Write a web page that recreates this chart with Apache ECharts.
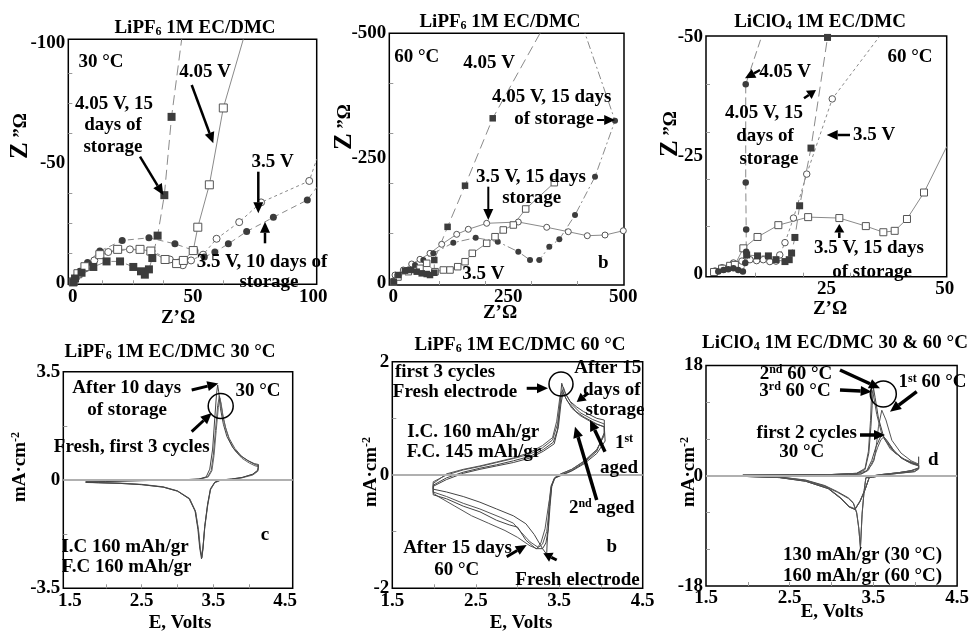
<!DOCTYPE html>
<html><head><meta charset="utf-8"><title>Impedance and CV</title>
<script src="https://cdn.jsdelivr.net/npm/echarts@6/dist/echarts.min.js"></script>
<style>html,body{margin:0;padding:0;background:#fff;}#chart{width:972px;height:633px;}</style>
</head><body><div id="chart"></div>
<script>
// ---------- (a) LiPF6 1M EC/DMC, 30 °C, Nyquist (Z', Z'') ----------
const a_405V_15d = [[0.3,-0.6],[1.0,-2.1],[3.7,-4.5],[8.6,-6.9],[14.1,-9.2],[19.7,-9.2],[25.2,-6.9],[28.4,-5.1],[30.0,-3.7],[31.7,-5.9],[33.1,-10.6],[35.3,-19.9],[38.1,-36.7],[41.1,-69.2],[45.3,-101.4]];
const a_405V = [[0.2,-0.7],[2.2,-4.1],[5.1,-7.0],[11.3,-12.0],[18.7,-14.2],[28.0,-14.2],[32.5,-13.5],[38.4,-10.0],[43.2,-8.3],[46.0,-9.6],[50.1,-13.7],[52.0,-23.4],[56.8,-41.0],[62.6,-72.9],[70.9,-101.4]];
const a_35V = [[1.7,-2.8],[5.1,-6.2],[9.0,-9.6],[14.8,-13.1],[23.8,-14.2],[32.8,-13.5],[40.4,-10.0],[43.9,-8.7],[45.8,-7.6],[49.2,-9.6],[54.2,-12.0],[59.8,-18.6],[69.2,-25.5],[78.3,-33.7],[98.3,-42.6],[101.4,-51.6]];
const a_35V_10d = [[0.25,-1.4],[3.0,-5.1],[6.2,-8.7],[11.3,-13.5],[20.6,-17.9],[31.7,-19.0],[42.5,-16.5],[50.8,-13.6],[54.7,-11.0],[59.1,-13.1],[64.7,-16.5],[72.3,-21.6],[83.4,-27.5],[97.5,-34.7],[101.4,-39.9]];
const a_xLabels = [0,50,100], a_yLabels = [-100,-50,0];

// ---------- (b) LiPF6 1M EC/DMC, 60 °C, Nyquist ----------
const b_405V = [[1,-2],[10.9,-15.4],[25.4,-24.1],[38.5,-25.5],[50.9,-22.1],[61.7,-18.8],[72.6,-17.4],[79.8,-15.4],[89.1,-20.0],[89.1,-45.5],[118,-112],[155.9,-194.5],[216.1,-329.6],[318.9,-500]];
const b_35V = [[0.5,-1],[10.2,-11.4],[32.6,-22.1],[58.0,-28.9],[72.6,-38.9],[90.7,-22.1],[108.7,-25.5],[123.3,-25.5],[140.0,-32.1],[155.9,-42.1],[171.7,-58.9],[203.0,-79.0],[221.1,-92.2],[239.1,-105.7],[260.9,-115.7],[287.8,-147.8],[350.0,-200.5]];
const b_35V_15d = [[1,-4],[3.7,-15.4],[21.7,-25.5],[40.0,-37.5],[58.0,-46.9],[79.8,-58.9],[105.2,-77.0],[137.8,-97.0],[163.0,-107.1],[203.0,-119.1],[271.7,-121.7],[333.5,-111.1],[380.4,-102.2],[421.7,-94.2],[460.2,-95.6],[500,-104.2]];
const b_405V_15d = [[1,-3],[10.9,-15.4],[29.1,-25.5],[47.2,-35.5],[65.2,-45.5],[87.0,-58.9],[130.4,-80.2],[179.1,-90.2],[227.0,-82.2],[271.7,-62.1],[297.2,-45.5],[317.4,-45.5],[339.1,-72.2],[360.9,-87.0],[395.0,-135.7],[438.5,-212.5],[482.0,-324.8],[416.7,-500]];
const b_xLabels = [0,250,500], b_yLabels = [-500,-250,0];

// ---------- (c) LiClO4 1M EC/DMC, 60 °C, Nyquist ----------
const c_405V = [[2.1,-0.5],[3.2,-0.8],[4.2,-1.0],[5.3,-1.2],[6.3,-0.8],[7.3,-0.5],[7.8,-2.3],[8.0,-4.7],[8.0,-9.4],[7.9,-19.3],[7.9,-40.1],[11.3,-50.3]];
const c_405V_15d = [[8.1,-4.0],[10.4,-3.8],[12.7,-3.8],[14.3,-3.0],[16.2,-2.6],[17.1,-3.0],[17.6,-4.4],[18.3,-7.7],[19.3,-14.4],[21.7,-26.6],[25.2,-50.0]];
const c_35V = [[1.4,-0.6],[2.9,-1.3],[5.3,-2.3],[7.1,-2.7],[8.8,-3.0],[10.2,-2.8],[11.6,-3.0],[13.0,-2.6],[14.3,-2.7],[15.1,-4.0],[16.2,-6.6],[18.0,-11.8],[20.8,-21.1],[26.2,-37.0],[36.1,-50.1]];
const c_35V_15d = [[1.2,-0.4],[2.9,-1.1],[4.6,-1.7],[5.6,-1.9],[7.4,-5.4],[10.4,-7.8],[14.8,-10.3],[21.1,-12.0],[27.7,-11.8],[33.3,-10.1],[37.0,-8.8],[39.4,-9.1],[42.0,-11.6],[45.6,-17.2],[50.4,-26.9]];
const c_xLabels = [25,50], c_yLabels = [-50,-25,0];

// ---------- (d) CV LiPF6 30 °C (E, mA/cm2) ----------
const d_fresh1 = [[1.72,-0.05],[2.0,-0.03],[2.5,-0.01],[3.0,0.0],[3.3,0.03],[3.42,0.1],[3.47,0.3],[3.5,0.8],[3.53,1.6],[3.56,2.4],[3.585,2.72],[3.6,2.55],[3.63,2.1],[3.67,1.7],[3.72,1.35],[3.8,1.02],[3.9,0.75],[4.0,0.6],[4.08,0.5],[4.13,0.46],[4.12,0.3],[4.05,0.18],[3.9,0.08],[3.75,0.03],[3.6,0.0],[3.52,-0.08],[3.46,-0.3],[3.42,-0.8],[3.38,-1.5],[3.355,-2.2],[3.34,-2.48],[3.315,-2.2],[3.29,-1.6],[3.25,-1.0],[3.17,-0.6],[3.0,-0.35],[2.8,-0.22],[2.5,-0.14],[2.2,-0.1],[1.9,-0.08],[1.72,-0.07]];
const d_fresh2 = [[1.72,-0.06],[2.0,-0.04],[2.5,-0.02],[3.0,0.0],[3.3,0.02],[3.43,0.1],[3.48,0.3],[3.51,0.8],[3.54,1.6],[3.57,2.35],[3.59,2.65],[3.61,2.45],[3.64,2.0],[3.68,1.6],[3.73,1.25],[3.8,0.95],[3.9,0.7],[4.0,0.55],[4.08,0.46],[4.13,0.43],[4.12,0.28],[4.05,0.16],[3.9,0.07],[3.75,0.02],[3.6,-0.01],[3.52,-0.09],[3.46,-0.32],[3.42,-0.85],[3.38,-1.55],[3.355,-2.25],[3.34,-2.52],[3.32,-2.25],[3.295,-1.65],[3.255,-1.05],[3.17,-0.62],[3.0,-0.36],[2.8,-0.23],[2.5,-0.15],[2.2,-0.11],[1.9,-0.09],[1.72,-0.08]];
const d_aged10d = [[1.72,-0.07],[2.0,-0.05],[2.5,-0.02],[3.0,0.0],[3.3,0.03],[3.4,0.1],[3.45,0.35],[3.49,1.0],[3.52,2.0],[3.545,2.8],[3.56,3.07],[3.575,2.85],[3.6,2.3],[3.64,1.8],[3.69,1.4],[3.77,1.05],[3.87,0.8],[3.98,0.63],[4.07,0.53],[4.13,0.5],[4.12,0.32],[4.05,0.19],[3.9,0.08],[3.75,0.03],[3.6,0.0],[3.52,-0.07],[3.46,-0.28],[3.42,-0.78],[3.38,-1.5],[3.355,-2.2],[3.335,-2.55],[3.31,-2.2],[3.285,-1.6],[3.245,-1.0],[3.16,-0.6],[3.0,-0.36],[2.8,-0.23],[2.5,-0.15],[2.2,-0.11],[1.9,-0.09],[1.72,-0.07]];
const d_xLabels = [1.5,2.5,3.5,4.5], d_yLabels = [-3.5,0,3.5];

// ---------- (e) CV LiPF6 60 °C ----------
const e_fresh = [[1.99,-0.18],[2.15,-0.05],[2.35,0.05],[2.55,0.12],[2.75,0.18],[2.95,0.25],[3.15,0.33],[3.31,0.45],[3.43,0.58],[3.48,0.8],[3.51,1.3],[3.53,1.62],[3.56,1.48],[3.63,1.3],[3.71,1.2],[3.79,1.12],[3.95,1.0],[4.04,0.97],[4.04,0.75],[3.95,0.42],[3.8,0.22],[3.65,0.08],[3.52,0.0],[3.44,-0.06],[3.4,-0.2],[3.38,-0.5],[3.37,-0.9],[3.355,-1.2],[3.35,-1.4],[3.3,-1.3],[3.2,-1.05],[3.1,-0.86],[2.95,-0.72],[2.75,-0.6],[2.55,-0.48],[2.35,-0.38],[2.15,-0.3],[1.99,-0.25],[1.99,-0.18]];
const e_aged1 = [[1.99,-0.12],[2.15,0.0],[2.35,0.09],[2.55,0.15],[2.75,0.22],[2.95,0.29],[3.15,0.37],[3.3,0.48],[3.42,0.62],[3.48,0.9],[3.52,1.35],[3.55,1.55],[3.58,1.42],[3.65,1.25],[3.75,1.1],[3.9,0.98],[4.04,0.9],[4.04,0.72],[3.95,0.44],[3.8,0.24],[3.65,0.1],[3.52,0.02],[3.45,-0.05],[3.41,-0.2],[3.38,-0.6],[3.35,-1.0],[3.3,-1.22],[3.25,-1.28],[3.15,-1.18],[3.05,-1.02],[2.95,-0.85],[2.8,-0.75],[2.55,-0.6],[2.35,-0.5],[2.15,-0.38],[1.99,-0.3],[1.99,-0.12]];
const e_aged2 = [[1.99,-0.15],[2.15,0.02],[2.35,0.1],[2.55,0.16],[2.75,0.23],[2.95,0.3],[3.15,0.4],[3.3,0.52],[3.42,0.66],[3.47,0.95],[3.51,1.4],[3.54,1.5],[3.58,1.35],[3.65,1.18],[3.75,1.05],[3.9,0.92],[4.04,0.85],[4.04,0.7],[3.95,0.45],[3.8,0.25],[3.65,0.1],[3.52,0.02],[3.45,-0.04],[3.41,-0.18],[3.37,-0.55],[3.33,-0.95],[3.28,-1.2],[3.23,-1.3],[3.15,-1.25],[3.0,-1.1],[2.85,-0.98],[2.65,-0.85],[2.45,-0.72],[2.25,-0.55],[2.05,-0.38],[1.99,-0.32],[1.99,-0.15]];
const e_after15d = [[1.99,-0.2],[2.15,-0.08],[2.35,0.03],[2.55,0.1],[2.75,0.16],[2.95,0.22],[3.15,0.3],[3.31,0.42],[3.44,0.55],[3.49,0.85],[3.52,1.25],[3.545,1.45],[3.6,1.3],[3.7,1.12],[3.8,1.02],[3.95,0.9],[4.04,0.85],[4.05,0.6],[3.95,0.38],[3.8,0.2],[3.65,0.07],[3.52,-0.01],[3.44,-0.06],[3.41,-0.2],[3.39,-0.55],[3.37,-0.95],[3.34,-1.2],[3.3,-1.3],[3.22,-1.3],[3.1,-1.15],[3.0,-0.92],[2.9,-0.88],[2.75,-0.8],[2.55,-0.65],[2.35,-0.55],[2.15,-0.42],[1.99,-0.35],[1.99,-0.2]];
const e_xLabels = [1.5,2.5,3.5,4.5], e_yLabels = [-2,0,2];

// ---------- (f) CV LiClO4 30 & 60 °C ----------
const f_30c_1 = [[1.94,0.05],[2.4,0.05],[2.9,0.1],[3.2,0.15],[3.35,0.3],[3.42,0.8],[3.48,2.5],[3.53,4.7],[3.58,6.2],[3.61,6.6],[3.66,5.8],[3.74,4.2],[3.83,2.9],[3.95,2.0],[4.04,1.6],[4.04,1.1],[3.99,0.65],[3.8,0.4],[3.61,0.1],[3.49,-0.27],[3.41,-0.3],[3.39,-2.3],[3.365,-6.1],[3.345,-11.9],[3.325,-8.5],[3.3,-6.0],[3.26,-4.4],[3.2,-3.6],[3.07,-2.6],[2.92,-1.6],[2.69,-0.7],[2.38,-0.2],[1.94,0.0]];
const f_30c_2 = [[1.94,0.05],[2.4,0.05],[2.9,0.1],[3.2,0.15],[3.36,0.3],[3.44,0.9],[3.5,2.6],[3.55,4.6],[3.59,5.9],[3.62,6.3],[3.67,5.5],[3.75,4.0],[3.85,2.8],[3.95,2.1],[4.04,1.7],[4.04,1.1],[3.99,0.7],[3.8,0.4],[3.61,0.1],[3.49,-0.25],[3.41,-0.35],[3.39,-2.4],[3.365,-6.3],[3.345,-11.6],[3.325,-8.6],[3.3,-6.1],[3.26,-4.5],[3.2,-3.7],[3.07,-2.7],[2.92,-1.7],[2.69,-0.75],[2.38,-0.2],[1.94,0.0]];
const f_60c_1 = [[1.94,0.1],[2.5,0.15],[3.0,0.2],[3.3,0.35],[3.42,0.8],[3.48,1.8],[3.51,2.6],[3.54,5.5],[3.56,8.0],[3.6,10.7],[3.65,9.1],[3.72,5.8],[3.83,3.7],[3.95,2.45],[4.04,1.9],[4.04,3.1],[4.04,1.3],[3.95,0.85],[3.8,0.5],[3.6,0.2],[3.5,0.0],[3.45,-0.3],[3.4,-2.3],[3.34,-4.2],[3.28,-5.5],[3.26,-5.6],[3.21,-5.1],[3.11,-3.7],[2.96,-2.1],[2.69,-0.9],[2.38,-0.3],[1.94,-0.1]];
const f_60c_2 = [[1.94,0.1],[2.5,0.15],[3.0,0.2],[3.3,0.4],[3.4,1.0],[3.445,3.7],[3.47,8.0],[3.485,11.5],[3.5,14.4],[3.52,12.8],[3.56,9.4],[3.63,6.0],[3.75,3.8],[3.9,2.4],[4.04,1.75],[4.04,1.2],[3.95,0.8],[3.8,0.5],[3.6,0.2],[3.5,0.0],[3.45,-0.3],[3.4,-2.3],[3.34,-4.2],[3.28,-5.5],[3.26,-5.6],[3.21,-5.1],[3.11,-3.7],[2.96,-2.1],[2.69,-0.9],[2.38,-0.3],[1.94,-0.1]];
const f_60c_3 = [[1.94,0.1],[2.5,0.15],[3.0,0.2],[3.3,0.4],[3.4,1.2],[3.44,4.0],[3.465,9.0],[3.48,14.0],[3.5,13.2],[3.54,10.0],[3.6,6.8],[3.7,4.4],[3.85,2.8],[4.04,1.8],[4.04,1.2],[3.95,0.8],[3.8,0.5],[3.6,0.2],[3.5,0.0],[3.45,-0.3],[3.4,-2.2],[3.34,-4.1],[3.28,-5.4],[3.26,-5.5],[3.21,-5.0],[3.11,-3.6],[2.96,-2.0],[2.69,-0.8],[2.38,-0.3],[1.94,-0.1]];
const f_xLabels = [1.5,2.5,3.5,4.5], f_yLabels = [-18,0,18];

// ---------- styling helpers ----------
const F = '"Liberation Serif","Times New Roman",serif';
const RICH = {
  sub: {fontSize: 12, lineHeight: 10, verticalAlign: 'bottom', fontWeight: 'bold', fontFamily: F, fill: '#000'},
  sup: {fontSize: 12, lineHeight: 10, verticalAlign: 'top', fontWeight: 'bold', fontFamily: F, fill: '#000'},
  big: {fontSize: 25, lineHeight: 24, fontWeight: 'bold', fontFamily: F, fill: '#000'}
};
function T(x, y, text, o) {
  o = o || {};
  return {type: 'text', x: x, y: y, rotation: o.rot || 0, z: 100,
    style: {text: text, fontSize: o.size || 19, fontWeight: 'bold', fontFamily: F, fill: '#000',
      align: o.align || 'center', verticalAlign: 'middle',
      textAlign: o.align || 'center', textVerticalAlign: 'middle', lineHeight: 20, rich: RICH}};
}
function A(x1, y1, x2, y2, w) {
  w = w || 2.5;
  const dx = x2 - x1, dy = y2 - y1, L = Math.hypot(dx, dy), ux = dx / L, uy = dy / L;
  const hl = Math.min(11, L * 0.6), hw = 5;
  const bx = x2 - ux * hl, by = y2 - uy * hl;
  return [
    {type: 'line', z: 100, shape: {x1: x1, y1: y1, x2: bx, y2: by}, style: {stroke: '#000', lineWidth: w}},
    {type: 'polygon', z: 100, shape: {points: [[x2, y2], [bx - uy * hw, by + ux * hw], [bx + uy * hw, by - ux * hw]]}, style: {fill: '#000'}}
  ];
}
function C(cx, cy, r) {
  return {type: 'circle', z: 100, shape: {cx: cx, cy: cy, r: r}, style: {fill: 'none', stroke: '#000', lineWidth: 1.5}};
}

const grids = [
  {left: 68.3, top: 39.3, width: 248.4, height: 245},
  {left: 389.3, top: 33.3, width: 234.7, height: 251.7},
  {left: 706, top: 36, width: 240.7, height: 240.7},
  {left: 63.3, top: 371.7, width: 229.4, height: 216.6},
  {left: 392.3, top: 361.7, width: 250.4, height: 226.6},
  {left: 706, top: 365.5, width: 262, height: 220.5}
].map(g => Object.assign({show: true, borderColor: '#000', borderWidth: 1.5, backgroundColor: 'rgba(0,0,0,0)'}, g));

function axis(i, min, max, labels, ticks, inverse) {
  return {type: 'value', gridIndex: i, min: min, max: max, inverse: !!inverse,
    axisLine: {show: false, onZero: false}, splitLine: {show: false},
    axisTick: {show: true, inside: true, length: 4, lineStyle: {color: '#999'}, customValues: ticks},
    axisLabel: {customValues: labels, fontSize: 19, fontWeight: 'bold', fontFamily: F, color: '#000', margin: 3}};
}
const xAxes = [
  axis(0, -1.8, 101.4, a_xLabels, [12.5,25,37.5,62.5,75,87.5]),
  axis(1, -8.7, 501.5, b_xLabels, [100,200,300,400]),
  axis(2, -0.5, 50.4, c_xLabels, [10,20,30,40]),
  axis(3, 1.407, 4.607, d_xLabels, [2,2.5,3,3.5,4]),
  axis(4, 1.5, 4.5, e_xLabels, [2,2.5,3,3.5,4]),
  axis(5, 1.5, 4.5, f_xLabels, [2,2.5,3,3.5,4])
];
const yAxes = [
  axis(0, -101.4, 0.3, a_yLabels, [-87.5,-75,-62.5,-37.5,-25,-12.5], true),
  axis(1, -500, 4.6, b_yLabels, [-400,-300,-200,-100], true),
  axis(2, -50.3, 0.6, c_yLabels, [-40,-30,-20,-10], true),
  axis(3, -3.5, 3.5, d_yLabels, [-1.75,1.75]),
  axis(4, -2, 2, e_yLabels, [-1,1]),
  axis(5, -18, 18, f_yLabels, [-12,-6,6,12])
];

function nyq(i, data, sym, filled, dash, size, tail) {
  return {type: 'line', xAxisIndex: i, yAxisIndex: i, animation: false, z: 3,
    data: data.map((p, k) => (tail && k === data.length - 1) ? {value: p, symbol: 'none'} : p),
    symbol: sym, symbolSize: size, showSymbol: true, showAllSymbol: true,
    lineStyle: {color: '#8a8a8a', width: 1, type: dash},
    itemStyle: filled ? {color: '#3c3c3c', borderColor: '#3c3c3c', borderWidth: 0} : {color: '#fff', borderColor: '#555', borderWidth: 1}};
}
function cv(i, data, color, zero) {
  const s = {type: 'line', xAxisIndex: i, yAxisIndex: i, data: data, showSymbol: false, symbol: 'none', animation: false, z: 3,
    lineStyle: {color: color, width: 1}};
  if (zero) s.markLine = {silent: true, symbol: 'none', label: {show: false}, animation: false,
    lineStyle: {color: '#b0b0b0', width: 2, type: 'solid'}, data: [{yAxis: 0}]};
  return s;
}

const series = [
  nyq(0, a_35V, 'circle', false, [3,3], 7, true),
  nyq(0, a_35V_10d, 'circle', true, [6,4], 7, true),
  nyq(0, a_405V, 'rect', false, 'solid', 8, true),
  nyq(0, a_405V_15d, 'rect', true, [10,5], 8, true),
  nyq(1, b_35V_15d, 'circle', false, 'solid', 6, false),
  nyq(1, b_405V_15d, 'circle', true, [8,3,2,3], 6, true),
  nyq(1, b_35V, 'rect', false, 'solid', 6.5, false),
  nyq(1, b_405V, 'rect', true, [10,5], 6.5, true),
  nyq(2, c_35V, 'circle', false, [3,3], 6.5, true),
  nyq(2, c_35V_15d, 'rect', false, 'solid', 7, true),
  nyq(2, c_405V_15d, 'rect', true, [10,5], 7, false),
  nyq(2, c_405V, 'circle', true, [8,4], 6.5, true),
  cv(3, d_fresh1, '#555', true),
  cv(3, d_fresh2, '#666'),
  cv(3, d_aged10d, '#444'),
  cv(4, e_fresh, '#444', true),
  cv(4, e_aged1, '#555'),
  cv(4, e_aged2, '#555'),
  cv(4, e_after15d, '#444'),
  cv(5, f_30c_1, '#444', true),
  cv(5, f_30c_2, '#555'),
  cv(5, f_60c_1, '#555'),
  cv(5, f_60c_2, '#444'),
  cv(5, f_60c_3, '#555')
];

const R90 = Math.PI / 2;
const elements = [].concat(
  // titles
  T(195, 28, 'LiPF{sub|6} 1M EC/DMC'),
  T(500, 22, 'LiPF{sub|6} 1M EC/DMC'),
  T(820, 22, 'LiClO{sub|4} 1M EC/DMC'),
  T(170, 352, 'LiPF{sub|6} 1M EC/DMC 30 °C'),
  T(520, 345, 'LiPF{sub|6} 1M EC/DMC 60 °C'),
  T(835, 343, 'LiClO{sub|4} 1M EC/DMC 30 & 60 °C'),
  // axis names
  T(21, 136, '{big|Z} ”Ω', {rot: R90}),
  T(345, 127, '{big|Z} ”Ω', {rot: R90}),
  T(671, 134, '{big|Z} ”Ω', {rot: R90}),
  T(178, 318, 'Z’Ω'),
  T(500, 313, 'Z’Ω'),
  T(830, 309, 'Z’Ω'),
  T(20, 467, 'mA·cm{sup|-2}', {rot: R90}),
  T(371, 472, 'mA·cm{sup|-2}', {rot: R90}),
  T(689, 472, 'mA·cm{sup|-2}', {rot: R90}),
  T(180, 623, 'E, Volts'),
  T(521, 623, 'E, Volts'),
  T(832, 612, 'E, Volts'),
  // panel a annotations
  T(101, 62, '30 °C'),
  T(205, 72, '4.05 V'),
  A(191.7, 85, 213.3, 143.3),
  T(114, 104, '4.05 V, 15'),
  T(113, 125, 'days of'),
  T(113, 147, 'storage'),
  A(140, 156.7, 163.3, 195),
  T(272.5, 162.5, '3.5 V'),
  A(258.3, 171.7, 258.3, 213.3),
  A(265, 243.3, 265, 221.7),
  T(196.7, 262, '3.5 V, 10 days of', {align: 'left'}),
  T(269, 282, 'storage'),
  // panel b annotations
  T(416.7, 57.5, '60 °C'),
  T(489, 63, '4.05 V'),
  T(551.7, 97.5, '4.05 V, 15 days'),
  T(554, 119, 'of storage'),
  A(597, 120, 615, 120, 2),
  T(531, 177.5, '3.5 V, 15 days'),
  T(531.7, 198.3, 'storage'),
  A(488.3, 186.7, 488.3, 220, 2),
  T(483.3, 274, '3.5 V'),
  T(603.3, 263, 'b'),
  // panel c annotations
  T(910, 57.5, '60 °C'),
  A(760, 70, 745, 78.3, 2.5),
  T(785, 72.5, '4.05 V'),
  A(804, 98.3, 816, 90, 2.5),
  T(764, 113, '4.05 V, 15'),
  T(765, 136, 'days of'),
  T(769, 159, 'storage'),
  A(850, 135, 826.7, 135, 2.5),
  T(874, 135, '3.5 V'),
  A(839.3, 238, 839.3, 224, 2.5),
  T(869, 248, '3.5 V, 15 days'),
  T(872, 272, 'of storage'),
  // panel d annotations
  T(126.7, 388.3, 'After 10 days'),
  T(127, 410, 'of storage'),
  A(191.7, 390, 218.3, 383.5, 3),
  T(258, 391, '30 °C'),
  C(220.7, 406, 12.5),
  A(191.7, 431.7, 211.7, 413, 3),
  T(131.7, 447.5, 'Fresh, first 3 cycles'),
  T(265, 535, 'c'),
  T(125, 546.7, 'I.C 160 mAh/gr'),
  T(126.7, 567.5, 'F.C 160 mAh/gr'),
  // panel e annotations
  T(445, 371.7, 'first 3 cycles'),
  T(455, 392.5, 'Fresh electrode'),
  A(526.7, 388.3, 548, 388.3, 3),
  C(561, 384, 12),
  T(607.7, 368.3, 'After 15'),
  T(611.7, 390, 'days of'),
  T(615, 410, 'storage'),
  A(588.3, 393, 576.7, 402, 3),
  T(473.3, 432.5, 'I.C. 160 mAh/gr'),
  T(474, 452.5, 'F.C. 145 mAh/gr'),
  T(624, 443, '1{sup|st}'),
  A(605, 451.7, 590, 420, 3.5),
  T(619, 468.3, 'aged'),
  A(596.7, 500, 575, 426.7, 3.5),
  T(601.7, 508.3, '2{sup|nd} aged'),
  T(611.7, 547.5, 'b'),
  T(457.5, 548.3, 'After 15 days'),
  A(506.7, 556.7, 526.7, 545, 3),
  T(456.7, 570, '60 °C'),
  A(556.7, 560, 543.3, 553.3, 3),
  T(577.5, 580, 'Fresh electrode'),
  // panel f annotations
  T(796, 374, '2{sup|nd} 60 °C'),
  A(840, 370, 880, 388.3, 3.5),
  T(795, 391, '3{sup|rd} 60 °C'),
  A(840, 390, 871.7, 391.7, 3.5),
  T(932.5, 382.5, '1{sup|st} 60 °C'),
  A(916.7, 391.7, 890, 411.7, 3.5),
  C(883.3, 394, 13),
  T(806.7, 433.3, 'first 2 cycles'),
  A(860, 435, 885, 435, 3.5),
  T(801.7, 451.7, '30 °C'),
  T(933.3, 460, 'd'),
  T(862.5, 555, '130 mAh/gr (30 °C)'),
  T(862.5, 576, '160 mAh/gr (60 °C)')
);

const option = {
  backgroundColor: '#fff',
  animation: false,
  grid: grids,
  xAxis: xAxes,
  yAxis: yAxes,
  series: series,
  graphic: {elements: elements}
};
const chart = echarts.init(document.getElementById('chart'), null, {renderer: 'canvas'});
chart.setOption(option);
</script></body></html>
